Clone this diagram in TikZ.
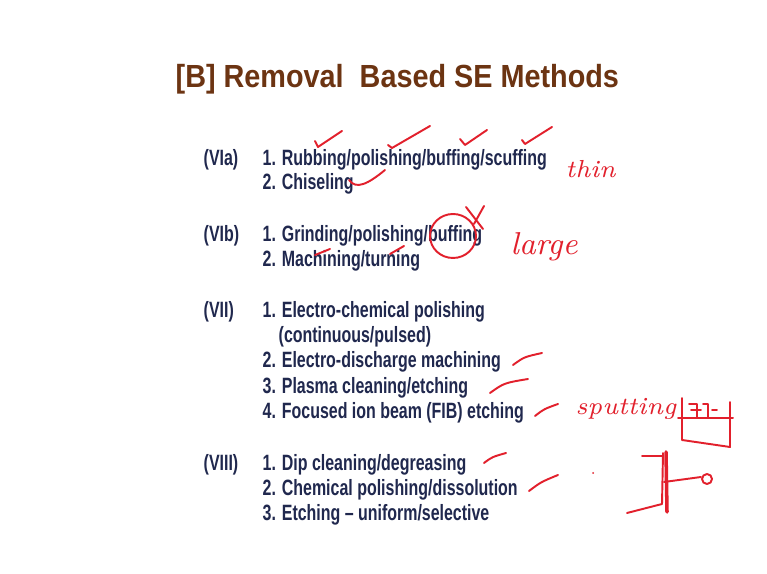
\documentclass[tikz,border=0pt]{standalone}
\usepackage{fontspec}
\newfontfamily\slidefont{Liberation Sans}[FakeStretch=0.72]
\newfontfamily\titlefont{Liberation Sans}[FakeStretch=0.9]
\definecolor{titlebrown}{RGB}{108,52,18}
\definecolor{slidenavy}{RGB}{32,40,78}
\definecolor{inkred}{RGB}{226,32,44}

\begin{document}
\begin{tikzpicture}[x=0.01cm, y=-0.01cm,
    heading/.style={anchor=base west, inner sep=0, text=titlebrown, font=\titlefont\bfseries\fontsize{9.1}{11}\selectfont},
    grp/.style={anchor=base west, inner sep=0, text=slidenavy, font=\slidefont\bfseries\fontsize{6.3}{7.5}\selectfont},
    item/.style={grp},
    ink/.style={draw=inkred, line width=0.55pt, line cap=round, line join=round},
    note/.style={anchor=base west, inner sep=0, text=inkred, font=\itshape\fontsize{7}{8}\selectfont}
]
    \fill[white] (0,0) rectangle (767,574);
    \useasboundingbox (0,0) rectangle (767,574);

    % title
    \node[heading] (title) at (175,88) {[B] Removal~ Based SE Methods};

    % VIa
    \node[grp]  (g6a) at (203,166) {(VIa)};
    \node[item] (i6a1) at (262,166) {1. Rubbing/polishing/buffing/scuffing};
    \node[item] (i6a2) at (262,190) {2. Chiseling};

    % VIb
    \node[grp]  (g6b) at (203,242) {(VIb)};
    \node[item] (i6b1) at (262,242) {1. Grinding/polishing/buffing};
    \node[item] (i6b2) at (262,267) {2. Machining/turning};

    % VII
    \node[grp]  (g7) at (203,318) {(VII)};
    \node[item] (i71) at (262,318) {1. Electro-chemical polishing};
    \node[item] (i71b) at (278,343) {(continuous/pulsed)};
    \node[item] (i72) at (262,368) {2. Electro-discharge machining};
    \node[item] (i73) at (262,394) {3. Plasma cleaning/etching};
    \node[item] (i74) at (262,419) {4. Focused ion beam (FIB) etching};

    % VIII
    \node[grp]  (g8) at (203,471) {(VIII)};
    \node[item] (i81) at (262,471) {1. Dip cleaning/degreasing};
    \node[item] (i82) at (262,496) {2. Chemical polishing/dissolution};
    \node[item] (i83) at (262,521) {3. Etching – uniform/selective};

    % handwritten notes
    \node[note] (thin) at (565,178) {thin};
    \node[note, font=\itshape\fontsize{9}{10}\selectfont] (large) at (510,255) {large};
    \node[note] (sput) at (575,415) {sputting};

    % ticks on VIa
    \draw[ink] (315,141) -- (318,147) -- (342,131);
    \draw[ink] (388,145) -- (392,148) -- (430,126);
    \draw[ink] (460,139) -- (465,145) -- (487,130);
    \draw[ink] (522,140) -- (525,144) -- (552,127);
    \draw[ink] (349,180) .. controls (356,190) and (368,184) .. (385,170);
    % VIb marks
    \draw[ink] (315,255) -- (330,249);
    \draw[ink] (390,254) -- (404,246);
    \draw[ink] (453,236) ellipse [x radius=23, y radius=22];
    \draw[ink] (466,207) -- (483,229);
    \draw[ink] (484,206) -- (474,224);

    % dashes on VII and VIII
    \draw[ink] (513,365) .. controls (524,357) .. (542,353);
    \draw[ink] (490,393) .. controls (504,383) .. (528,379);
    \draw[ink] (535,416) .. controls (544,409) .. (558,404);
    \draw[ink] (484,463) .. controls (492,457) .. (506,453);
    \draw[ink] (529,491) .. controls (541,482) .. (558,475);

    % sketches
    \draw[ink] (682,398) -- (682,440) -- (730,447) -- (730,402);
    \draw[ink] (678,418) -- (733,418);
    \draw[ink] (689,404) -- (697,404) -- (697,418) (691,410) -- (701,410) (703,404) -- (708,404) -- (708,418) (712,410) -- (717,410);
    \draw[ink] (642,456) -- (662,456);
    \draw[ink, line width=1pt] (666,452) -- (667,512);
    \draw[ink] (663,453) -- (662,504) -- (627,513);
    \draw[ink] (664,482) -- (701,477);
    \draw[ink] (707,479) circle [radius=5];
    \fill[inkred] (593,473) circle [radius=1];
\end{tikzpicture}
\end{document}
